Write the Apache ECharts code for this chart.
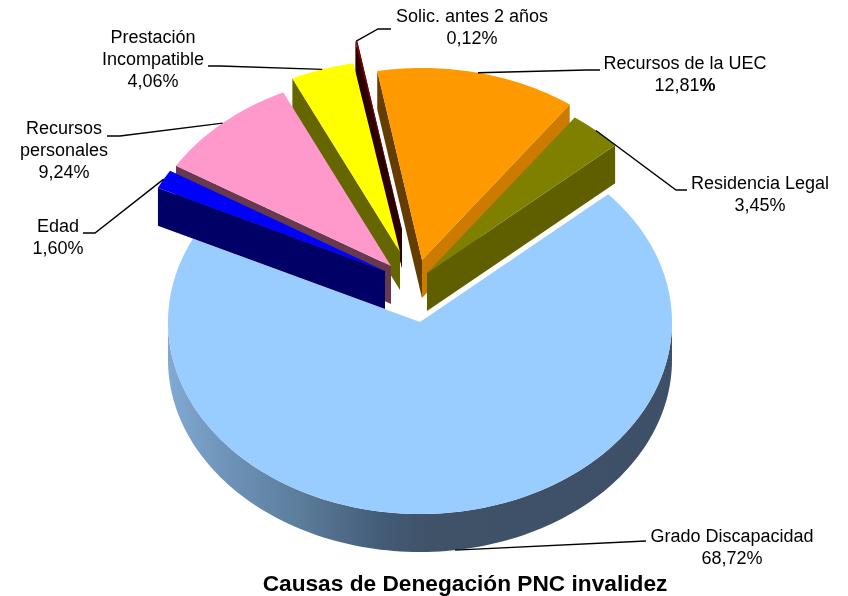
<!DOCTYPE html>
<html>
<head>
<meta charset="utf-8">
<style>
  html, body { margin: 0; padding: 0; background: #fff; }
  #chart { width: 848px; height: 596px; }
</style>
<script src="https://cdn.jsdelivr.net/npm/echarts@6/dist/echarts.min.js"></script>
</head>
<body>
<div id="chart"></div>
<script>
// data
const categories = ['Grado Discapacidad', 'Residencia Legal', 'Recursos de la UEC', 'Solic. antes 2 años', 'Prestación\nIncompatible', 'Recursos\npersonales', 'Edad'];
const values = [68.72, 3.45, 12.81, 0.12, 4.06, 9.24, 1.60];
const chartTitle = 'Causas de Denegación PNC invalidez';

// colours, same order as categories
const topColors = ['#99CCFF', '#808000', '#FF9900', '#800000', '#FFFF00', '#FF99CC', '#0000FF'];
const lowWallColors = [null, '#5F5F00', '#CC7A00', '#3A0000', null, null, null];
const highWallColors = [null, null, '#663D00', '#2A0000', '#666600', '#66394F', '#000066'];

// layout of the tilted pie
const center = [420, 322];
const radiusX = 252;
const radiusY = 192;
const depth = 38;
const firstAngle = 41.7;
const explode = [[0, 0], [7, -49], [2, -62], [-18, -92], [-20, -70], [-29, -56], [-35, -51]];
const drawOrder = [0, 2, 1, 3, 4, 5, 6];

// labels and leader lines
const labelPos = [[732, 548], [760, 195], [685, 75], [472, 28], [153, 60], [64, 151], [58, 238]];
const leaderElbows = [[[646, 541]], [[676, 190], [687, 190]], [[587, 70], [600, 70]], [[378, 29], [391, 29]], [[220, 66], [208, 66]], [[120, 136], [107, 136]], [[95, 233], [83, 233]]];

// each slice's angle range, counter clockwise from firstAngle, the big one goes the other way
const ranges = [];
let cursor = firstAngle;
values.forEach(function (v, i) {
  const span = v * 3.6;
  if (i === 0) {
    ranges.push([firstAngle - span, firstAngle]);
  } else {
    ranges.push([cursor, cursor + span]);
    cursor += span;
  }
});

function apexOf(i) {
  return [center[0] + explode[i][0], center[1] + explode[i][1]];
}

function onEdge(i, angle) {
  const apex = apexOf(i);
  const rad = angle * Math.PI / 180;
  return [apex[0] + radiusX * Math.cos(rad), apex[1] - radiusY * Math.sin(rad)];
}

function arc(i, from, to) {
  const pts = [];
  const steps = Math.max(2, Math.ceil(Math.abs(to - from) / 1.5));
  for (let s = 0; s <= steps; s++) {
    pts.push(onEdge(i, from + (to - from) * s / steps));
  }
  return pts;
}

function down(p) {
  return [p[0], p[1] + depth];
}

function wall(i, angle, color) {
  const apex = apexOf(i);
  const edge = onEdge(i, angle);
  return {
    type: 'polygon',
    shape: { points: [apex, edge, down(edge), down(apex)] },
    style: { fill: color }
  };
}

function renderSlice(params, api) {
  const i = api.value(0);
  const r = ranges[i];
  const children = [];

  // outer rim, only the part that faces the viewer
  const rimFrom = Math.max(r[0], -180);
  const rimTo = Math.min(r[1], 0);
  if (rimFrom < rimTo) {
    const rim = arc(i, rimFrom, rimTo);
    children.push({
      type: 'polygon',
      shape: { points: rim.concat(rim.map(down).reverse()) },
      style: {
        fill: new echarts.graphic.LinearGradient(0, 0, 1, 0, [
          { offset: 0, color: '#82A9D2' },
          { offset: 0.12, color: '#6E93B8' },
          { offset: 0.26, color: '#5C7D9C' },
          { offset: 0.42, color: '#445C78' },
          { offset: 0.52, color: '#3F5268' },
          { offset: 1, color: '#3E5067' }
        ])
      }
    });
  }

  // walls, back one first
  const lowWall = lowWallColors[i] ? wall(i, r[0], lowWallColors[i]) : null;
  const highWall = highWallColors[i] ? wall(i, r[1], highWallColors[i]) : null;
  const walls = (r[0] + r[1]) / 2 < 90 ? [highWall, lowWall] : [lowWall, highWall];
  walls.forEach(function (w) {
    if (w) children.push(w);
  });

  children.push({
    type: 'polygon',
    shape: { points: [apexOf(i)].concat(arc(i, r[0], r[1])) },
    style: { fill: topColors[i] }
  });

  return { type: 'group', children: children };
}

function renderLeader(params, api) {
  const i = api.value(0);
  let start = onEdge(i, (ranges[i][0] + ranges[i][1]) / 2);
  if (i === 0) start = down(start);
  return {
    type: 'polyline',
    shape: { points: [start].concat(leaderElbows[i]) },
    style: { fill: null, stroke: '#000', lineWidth: 1.4 }
  };
}

function labelText(i) {
  const pct = values[i].toFixed(2).replace('.', ',');
  if (i === 2) return categories[i] + '\n' + pct + '{b|%}';
  return categories[i] + '\n' + pct + '%';
}

function renderLabel(params, api) {
  const i = api.value(0);
  return {
    type: 'text',
    x: labelPos[i][0],
    y: labelPos[i][1],
    style: {
      text: labelText(i),
      fill: '#000',
      font: '18px "Liberation Sans", Arial, sans-serif',
      lineHeight: 22,
      align: 'center',
      verticalAlign: 'middle',
      rich: { b: { fontWeight: 'bold', fontSize: 18, fontFamily: '"Liberation Sans", Arial, sans-serif', lineHeight: 22 } }
    }
  };
}

const myChart = echarts.init(document.getElementById('chart'));
myChart.setOption({
  animation: false,
  backgroundColor: '#fff',
  title: {
    text: chartTitle,
    left: 460,
    top: 568,
    textAlign: 'center',
    textStyle: { fontFamily: '"Liberation Sans", Arial, sans-serif', fontSize: 22.7, fontWeight: 'bold', color: '#000' }
  },
  series: [{
    type: 'custom',
    coordinateSystem: 'none',
    silent: true,
    renderItem: renderSlice,
    data: drawOrder.map(function (i) { return [i]; })
  }, {
    type: 'custom',
    coordinateSystem: 'none',
    silent: true,
    renderItem: renderLeader,
    data: categories.map(function (c, i) { return [i]; })
  }, {
    type: 'custom',
    coordinateSystem: 'none',
    silent: true,
    renderItem: renderLabel,
    data: categories.map(function (c, i) { return [i]; })
  }]
});
</script>
</body>
</html>
